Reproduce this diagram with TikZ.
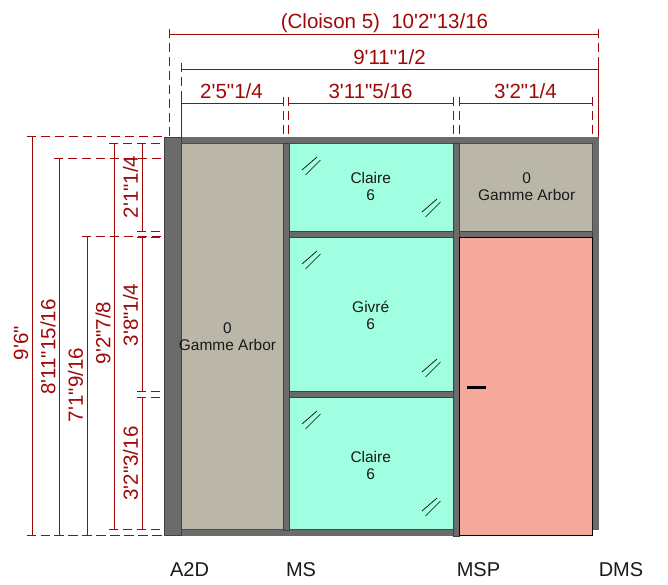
\documentclass[tikz,border=0pt]{standalone}
\usepackage{fontspec}
\setmainfont[Ligatures=TeXOff]{Liberation Sans}
\definecolor{dimred}{HTML}{A00808}
\definecolor{postgray}{HTML}{6B6B6B}
\definecolor{panelgray}{HTML}{BBB7A8}
\definecolor{glassgreen}{HTML}{A0FFE0}
\definecolor{doorsalmon}{HTML}{F4A99A}
\tikzset{
  post/.style={fill=postgray, draw=black!75, line width=.6pt},
  rail/.style={fill=postgray, draw=none},
  panel/.style={fill=panelgray, draw=black!70, line width=.4pt},
  glass/.style={fill=glassgreen, draw=black!70, line width=.4pt},
  door/.style={fill=doorsalmon, draw=black, line width=.75pt},
  dimline/.style={draw=dimred, line width=.7pt},
  dimext/.style={draw=dimred, line width=.75pt, dash pattern=on 6.75pt off 3.75pt},
  dimtext/.style={text=dimred, font=\fontsize{15.4pt}{17pt}\selectfont, inner sep=0pt},
  paneltext/.style={text=black!90, font=\fontsize{11.6pt}{12.8pt}\selectfont, align=center, inner sep=0pt},
  postname/.style={text=black!90, font=\fontsize{15pt}{17pt}\selectfont, inner sep=0pt},
  glassmark/.style={draw=black, line width=.5pt},
}
\begin{document}
\begin{tikzpicture}[x=.75pt, y=-.75pt]
\useasboundingbox (0,0) rectangle (668,585);
% panels
\draw[panel] (181,143) rectangle (283,529.5);
\draw[glass] (289,143) rectangle (453.3,231);
\draw[glass] (289,237) rectangle (453.3,391);
\draw[glass] (289,397) rectangle (453.3,529.5);
\draw[panel] (459.3,143) rectangle (592.7,231);
% rails
\fill[rail] (164,137) rectangle (598.5,143);
\fill[rail] (181,529.5) rectangle (453.3,535.5);
\draw[post] (289,231) rectangle (453.3,237);
\draw[post] (289,391) rectangle (453.3,397);
\draw[post] (459.3,231) rectangle (592.7,237);
% posts
\draw[post] (164,137) rectangle (181,535.5);
\draw[post] (283,143) rectangle (289,530);
\draw[post] (453.3,143) rectangle (459.3,536);
\draw[rail] (592.7,143) rectangle (598.5,530);
\draw[door] (459.3,237) rectangle (592.7,535.5);
\draw[line width=2.4pt, black] (467,387.3) -- (486,387.3);
% glass marks
\foreach \gx/\gy in {302/157, 422/199, 422/359, 302/411, 422/498, 302/251}{
  \coordinate (ma) at (\gx,\gy+13);
  \coordinate (mb) at (\gx+15,\gy);
  \coordinate (mc) at (\gx+3.5,\gy+18);
  \coordinate (md) at (\gx+18.5,\gy+3);
  \draw[glassmark] (ma) -- (mb);
  \draw[glassmark] (mc) -- (md);
}
% horizontal dimensions
\foreach \nm/\xa/\xb/\yy in {w0/169.3/598/34.5, w1/181/598/69, w2/181/283/103, w3/288.7/453.3/103, w4/459.3/592.7/103}{
  \coordinate (\nm a) at (\xa,\yy);
  \coordinate (\nm b) at (\xb,\yy);
  \coordinate (\nm at) at (\xa,\yy-5.5);
  \coordinate (\nm ae) at (\xa,137);
  \coordinate (\nm bt) at (\xb,\yy-5.5);
  \coordinate (\nm be) at (\xb,137);
  \draw[dimline] (\nm a) -- (\nm b);
  \draw[dimext] (\nm at) -- (\nm ae);
  \draw[dimext] (\nm bt) -- (\nm be);
}
% vertical dimensions
\foreach \nm/\xx/\ya/\yb in {h0/32/137/535, h1/59.5/158.5/535, h2/87/236.5/535, h3/114.5/143/529.5, h4/142/143/231, h5/142/237/391, h6/142/397/529.5}{
  \coordinate (\nm a) at (\xx,\ya);
  \coordinate (\nm b) at (\xx,\yb);
  \coordinate (\nm al) at (\xx-5.5,\ya);
  \coordinate (\nm ae) at (164,\ya);
  \coordinate (\nm bl) at (\xx-5.5,\yb);
  \coordinate (\nm be) at (164,\yb);
  \draw[dimline] (\nm a) -- (\nm b);
  \draw[dimext] (\nm al) -- (\nm ae);
  \draw[dimext] (\nm bl) -- (\nm be);
}
% dimension texts
\node[dimtext] (tw0) at (384.5,23) {(Cloison 5)\hspace{.55em}10'2"13/16};
\node[dimtext] (tw1) at (389.5,57) {9'11"1/2};
\node[dimtext] (tw2) at (231.5,91) {2'5"1/4};
\node[dimtext] (tw3) at (370.5,91) {3'11"5/16};
\node[dimtext] (tw4) at (525.5,91) {3'2"1/4};
\node[dimtext, rotate=90] (th0) at (21,343) {9'6"};
\node[dimtext, rotate=90] (th1) at (48,347) {8'11"15/16};
\node[dimtext, rotate=90] (th2) at (75.5,385) {7'1"9/16};
\node[dimtext, rotate=90] (th3) at (103,333) {9'2"7/8};
\node[dimtext, rotate=90] (th4) at (130.5,187) {2'1"1/4};
\node[dimtext, rotate=90] (th5) at (130.5,315) {3'8"1/4};
\node[dimtext, rotate=90] (th6) at (130.5,463.5) {3'2"3/16};
% panel texts
\node[paneltext] (p0) at (227.5,336.5) {0\\Gamme Arbor};
\node[paneltext] (p1) at (370.7,186.5) {Claire\\6};
\node[paneltext] (p2) at (526.7,186.5) {0\\Gamme Arbor};
\node[paneltext] (p3) at (370.7,315.5) {Givré\\6};
\node[paneltext] (p4) at (370.7,465.5) {Claire\\6};
% post names
\node[postname] (a2d) at (189.5,569.5) {A2D};
\node[postname] (ms) at (301,569.5) {MS};
\node[postname] (msp) at (478.5,569.5) {MSP};
\node[postname] (dms) at (621,569.5) {DMS};
\end{tikzpicture}
\end{document}
